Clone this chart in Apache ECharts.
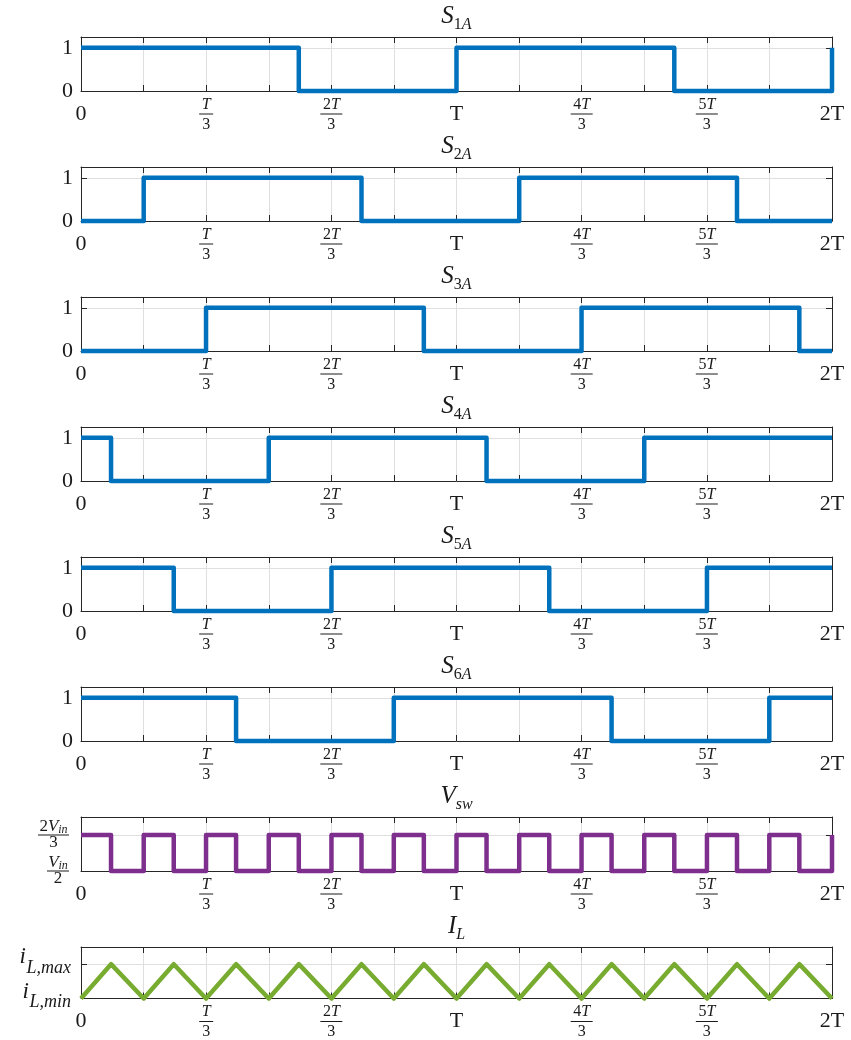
<!DOCTYPE html>
<html>
<head>
<meta charset="utf-8">
<script src="https://cdn.jsdelivr.net/npm/echarts@6/dist/echarts.min.js"></script>
<style>
  html, body { margin: 0; padding: 0; background: #ffffff; }
  #chart { width: 851px; height: 1040px; }
</style>
</head>
<body>
<div id="chart"></div>
<script>
// Gate signals of the six interleaved legs, switch-node voltage and inductor
// current over two switching periods. Time is in units of T, levels are
// normalised (0 = low state, 1 = high state).

const S1A = [[0, 1], [0.58, 1], [0.58, 0], [1, 0], [1, 1], [1.58, 1], [1.58, 0], [2, 0], [2, 1]];
const S2A = [[0, 0], [0.167, 0], [0.167, 1], [0.747, 1], [0.747, 0], [1.167, 0], [1.167, 1], [1.747, 1], [1.747, 0], [2, 0]];
const S3A = [[0, 0], [0.333, 0], [0.333, 1], [0.913, 1], [0.913, 0], [1.333, 0], [1.333, 1], [1.913, 1], [1.913, 0], [2, 0]];
const S4A = [[0, 1], [0.08, 1], [0.08, 0], [0.5, 0], [0.5, 1], [1.08, 1], [1.08, 0], [1.5, 0], [1.5, 1], [2, 1]];
const S5A = [[0, 1], [0.247, 1], [0.247, 0], [0.667, 0], [0.667, 1], [1.247, 1], [1.247, 0], [1.667, 0], [1.667, 1], [2, 1]];
const S6A = [[0, 1], [0.413, 1], [0.413, 0], [0.833, 0], [0.833, 1], [1.413, 1], [1.413, 0], [1.833, 0], [1.833, 1], [2, 1]];

// Switch-node voltage: 0 -> Vin/2, 1 -> 2Vin/3
const VSW = [
  [0, 1], [0.08, 1], [0.08, 0], [0.167, 0], [0.167, 1], [0.247, 1], [0.247, 0], [0.333, 0],
  [0.333, 1], [0.413, 1], [0.413, 0], [0.5, 0], [0.5, 1], [0.58, 1], [0.58, 0], [0.667, 0],
  [0.667, 1], [0.747, 1], [0.747, 0], [0.833, 0], [0.833, 1], [0.913, 1], [0.913, 0], [1, 0],
  [1, 1], [1.08, 1], [1.08, 0], [1.167, 0], [1.167, 1], [1.247, 1], [1.247, 0], [1.333, 0],
  [1.333, 1], [1.413, 1], [1.413, 0], [1.5, 0], [1.5, 1], [1.58, 1], [1.58, 0], [1.667, 0],
  [1.667, 1], [1.747, 1], [1.747, 0], [1.833, 0], [1.833, 1], [1.913, 1], [1.913, 0], [2, 0], [2, 1]
];

// Inductor current: 0 -> iL,min, 1 -> iL,max
const IL = [
  [0, 0], [0.08, 1], [0.167, 0], [0.247, 1], [0.333, 0], [0.413, 1], [0.5, 0], [0.58, 1],
  [0.667, 0], [0.747, 1], [0.833, 0], [0.913, 1], [1, 0], [1.08, 1], [1.167, 0], [1.247, 1],
  [1.333, 0], [1.413, 1], [1.5, 0], [1.58, 1], [1.667, 0], [1.747, 1], [1.833, 0], [1.913, 1], [2, 0]
];

// Tick labels: x ticks every T/6, labelled every T/3
const xTickLabels = ['0', '', 'T/3', '', '2T/3', '', 'T', '', '4T/3', '', '5T/3', '', '2T'];
const gateTickLabels = ['0', '1'];
const vswTickLabels = ['V_in/2', '2V_in/3'];
const ilTickLabels = ['i_L,min', 'i_L,max'];

const panelTitles = [['S', '1A'], ['S', '2A'], ['S', '3A'], ['S', '4A'], ['S', '5A'], ['S', '6A'], ['V', 'sw'], ['I', 'L']];

const BLUE = '#0072BD', PURPLE = '#7E2F8E', GREEN = '#77AC30';
const SERIF = "'Liberation Serif', 'DejaVu Serif', serif";
const INK = '#262626';
const GRID = '#dfdfdf';
const TXT = '#1a1a1a';

const panels = [
  { data: S1A, color: BLUE, ymax: 1.25, labels: gateTickLabels, kind: 'plain' },
  { data: S2A, color: BLUE, ymax: 1.25, labels: gateTickLabels, kind: 'plain' },
  { data: S3A, color: BLUE, ymax: 1.25, labels: gateTickLabels, kind: 'plain' },
  { data: S4A, color: BLUE, ymax: 1.25, labels: gateTickLabels, kind: 'plain' },
  { data: S5A, color: BLUE, ymax: 1.25, labels: gateTickLabels, kind: 'plain' },
  { data: S6A, color: BLUE, ymax: 1.25, labels: gateTickLabels, kind: 'plain' },
  { data: VSW, color: PURPLE, ymax: 1.5, labels: vswTickLabels, kind: 'frac' },
  { data: IL, color: GREEN, ymax: 1.5, labels: ilTickLabels, kind: 'sub' }
];

// ---- rich-text helpers (math-style labels) ----
function mathRun(str, roman, italic) {
  let out = '';
  for (const ch of str) out += /[0-9]/.test(ch) ? '{' + roman + '|' + ch + '}' : '{' + italic + '|' + ch + '}';
  return out;
}

function xLabel(v) {
  const s = xTickLabels[Math.round(v)];
  if (!s) return '';
  if (s.indexOf('/') >= 0) {
    const [n, d] = s.split('/');
    const bar = n.length > 1 ? 'bar2' : 'bar1';
    return mathRun(n, 'fr', 'fi') + '\n{' + bar + '|}\n{fd|' + d + '}';
  }
  return '{big|' + s + '}';
}

function yMarkup(panel, s) {
  if (panel.kind === 'plain') return '{big|' + s + '}';
  if (panel.kind === 'sub') {
    // base letter on the upper line, lowered subscript on the next one
    const [base, sub] = s.split('_');
    return '{ii|' + base + '}\n{ipad|}{is|' + sub + '}';
  }
  // fraction with subscripted numerator, e.g. 2V_in/3
  const [num, den] = s.split('/');
  const [head, sub] = num.split('_');
  const bar = head.length > 1 ? 'vbar2' : 'vbar1';
  return mathRun(head, 'vr', 'vi') + '{vs|' + sub + '}\n{' + bar + '|}\n{vd|' + den + '}';
}

// only: which tick levels (0 / 1) this axis writes a label for
function yLabelFor(panel, only) {
  return function (v) {
    let idx = -1;
    if (Math.abs(v) < 1e-9) idx = 0; else if (Math.abs(v - 1) < 1e-9) idx = 1;
    if (idx < 0 || only.indexOf(idx) < 0) return '';
    return yMarkup(panel, panel.labels[idx]);
  };
}

const xRich = {
  big: { fontFamily: SERIF, fontSize: 22, lineHeight: 34, color: TXT, align: 'center' },
  fr: { fontFamily: SERIF, fontSize: 16, lineHeight: 15, color: TXT, align: 'center' },
  fi: { fontFamily: SERIF, fontStyle: 'italic', fontSize: 16, lineHeight: 15, color: TXT, align: 'center' },
  fd: { fontFamily: SERIF, fontSize: 16, lineHeight: 17, color: TXT, align: 'center' },
  bar1: { width: 14, height: 1, lineHeight: 4, backgroundColor: TXT, align: 'center' },
  bar2: { width: 22, height: 1, lineHeight: 4, backgroundColor: TXT, align: 'center' }
};

const yRich = {
  big: { fontFamily: SERIF, fontSize: 22, lineHeight: 26, color: TXT },
  ii: { fontFamily: SERIF, fontStyle: 'italic', fontSize: 23, lineHeight: 14, color: TXT, align: 'left' },
  ipad: { width: 7, height: 1, lineHeight: 14, align: 'left' },
  is: { fontFamily: SERIF, fontStyle: 'italic', fontSize: 18, lineHeight: 14, color: TXT, align: 'left', padding: [0, 0, 6, 0] },
  vr: { fontFamily: SERIF, fontSize: 17, lineHeight: 12, color: TXT, align: 'center' },
  vi: { fontFamily: SERIF, fontStyle: 'italic', fontSize: 17, lineHeight: 12, color: TXT, align: 'center' },
  vs: { fontFamily: SERIF, fontStyle: 'italic', fontSize: 12, lineHeight: 12, color: TXT, align: 'center', padding: [6, 0, 0, 0] },
  vd: { fontFamily: SERIF, fontSize: 17, lineHeight: 12, color: TXT, align: 'center' },
  vbar1: { width: 22, height: 1, lineHeight: 4, backgroundColor: TXT, align: 'center' },
  vbar2: { width: 31, height: 1, lineHeight: 4, backgroundColor: TXT, align: 'center' }
};

const titleRich = {
  m: { fontFamily: SERIF, fontStyle: 'italic', fontWeight: 'normal', fontSize: 25, lineHeight: 30, color: TXT },
  sr: { fontFamily: SERIF, fontWeight: 'normal', fontSize: 16, lineHeight: 30, color: TXT, padding: [18, 0, 0, 0] },
  si: { fontFamily: SERIF, fontStyle: 'italic', fontWeight: 'normal', fontSize: 16, lineHeight: 30, color: TXT, padding: [18, 0, 0, 0] }
};

// ---- layout ----
const LEFT = 81, WIDTH = 751, TOP0 = 37, STEP = 130, HEIGHT = 54;

const grids = [], xAxes = [], yAxes = [], series = [], titles = [];
const axisLineStyle = { onZero: false, lineStyle: { color: INK, width: 1 } };
const tickStyle = { inside: true, length: 6, lineStyle: { color: INK, width: 1 } };

function yMargin(p) { return p.kind === 'plain' ? 8 : (p.kind === 'frac' ? 12 : 10); }

panels.forEach((p, i) => {
  grids.push({ left: LEFT, width: WIDTH, top: TOP0 + STEP * i, height: HEIGHT });
  titles.push({
    text: '{m|' + panelTitles[i][0] + '}' + mathRun(panelTitles[i][1], 'sr', 'si'),
    left: LEFT + WIDTH / 2, top: 1 + STEP * i, textAlign: 'center', padding: 0,
    textStyle: { fontWeight: 'normal', rich: titleRich }
  });
});

// bottom / left axes carry labels and grid lines
panels.forEach((p, i) => {
  xAxes.push({
    type: 'value', gridIndex: i, position: 'bottom', min: 0, max: 12, interval: 1,
    axisLine: axisLineStyle, axisTick: tickStyle,
    splitLine: { show: true, lineStyle: { color: GRID, width: 1 } },
    axisLabel: { margin: 6, color: TXT, formatter: xLabel, rich: xRich, showMinLabel: true, showMaxLabel: true }
  });
  // tall two-level labels get their upper label from a separate overlay axis
  const own = p.kind === 'sub' ? [0] : [0, 1];
  yAxes.push({
    type: 'value', gridIndex: i, position: 'left', min: 0, max: p.ymax, interval: 1,
    axisLine: axisLineStyle, axisTick: tickStyle,
    splitLine: { show: true, lineStyle: { color: GRID, width: 1 } },
    axisLabel: { margin: yMargin(p), color: TXT, formatter: yLabelFor(p, own), rich: yRich, showMinLabel: true, showMaxLabel: false }
  });
});
// top / right axes close the box with inward ticks
panels.forEach((p, i) => {
  xAxes.push({
    type: 'value', gridIndex: i, position: 'top', min: 0, max: 12, interval: 1,
    axisLine: axisLineStyle, axisTick: tickStyle, splitLine: { show: false }, axisLabel: { show: false }
  });
  yAxes.push({
    type: 'value', gridIndex: i, position: 'right', min: 0, max: p.ymax, interval: 1,
    axisLine: axisLineStyle, axisTick: tickStyle, splitLine: { show: false }, axisLabel: { show: false }
  });
});
// overlay label-only axes for the upper labels of the tall-label panels
panels.forEach((p, i) => {
  if (p.kind !== 'sub') return;
  yAxes.push({
    type: 'value', gridIndex: i, position: 'left', min: 0, max: p.ymax, interval: 1,
    axisLine: { show: false, onZero: false }, axisTick: { show: false }, splitLine: { show: false },
    axisLabel: { margin: yMargin(p), color: TXT, formatter: yLabelFor(p, [1]), rich: yRich, showMinLabel: false, showMaxLabel: false }
  });
});

panels.forEach((p, i) => {
  series.push({
    type: 'line', xAxisIndex: i, yAxisIndex: i,
    data: p.data.map(([t, v]) => [t * 6, v]),   // time in T -> axis units of T/6
    showSymbol: false, symbol: 'none', clip: false, silent: true,
    lineStyle: { color: p.color, width: 4.5, join: 'round', cap: 'butt' },
    z: 5
  });
});

const chart = echarts.init(document.getElementById('chart'), null, { renderer: 'canvas' });
chart.setOption({
  animation: false,
  backgroundColor: '#ffffff',
  title: titles,
  grid: grids,
  xAxis: xAxes,
  yAxis: yAxes,
  series: series
});
</script>
</body>
</html>
